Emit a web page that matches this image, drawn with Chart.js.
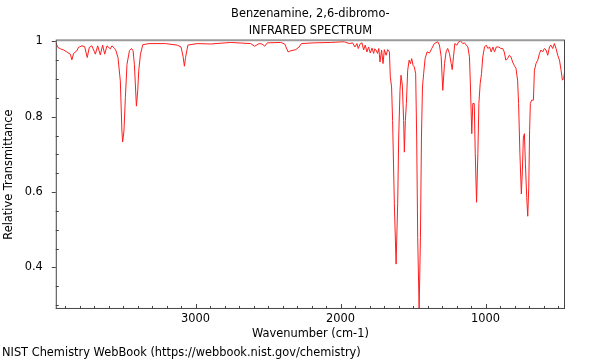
<!DOCTYPE html>
<html>
<head>
<meta charset="utf-8">
<script src="https://cdn.jsdelivr.net/npm/chart.js@4.4.1/dist/chart.umd.min.js"></script>
<style>
  html, body { margin: 0; padding: 0; background: #fff; }
  #wrap { width: 600px; height: 360px; }
</style>
</head>
<body>
<div id="wrap"><canvas id="irChart" width="600" height="360"></canvas></div>
<script>
// Espectro (número de onda em cm-1, transmitância relativa)
const wavenumber = [
  3964, 3950, 3931, 3910, 3888, 3864, 3853, 3841, 3819, 3807, 3784, 3765, 3747, 3733, 3715, 3691,
  3675, 3657, 3641, 3627, 3611, 3588, 3577, 3558, 3549, 3535, 3519, 3508, 3503, 3494, 3484, 3473,
  3456, 3442, 3431, 3422, 3413, 3408, 3399, 3392, 3380, 3364, 3323, 3207, 3127, 3100, 3086, 3077,
  3069, 3053, 2989, 2896, 2758, 2620, 2592, 2562, 2542, 2523, 2505, 2412, 2385, 2362, 2343, 2309,
  2286, 2270, 2182, 2067, 1975, 1940, 1917, 1901, 1887, 1878, 1864, 1852, 1841, 1830, 1818, 1807,
  1795, 1783, 1772, 1764, 1756, 1745, 1736, 1728, 1717, 1707, 1698, 1686, 1675, 1663, 1657, 1648,
  1641, 1629, 1617, 1606, 1599, 1590, 1583, 1574, 1565, 1560, 1553, 1546, 1537, 1527, 1518, 1509,
  1500, 1491, 1482, 1475, 1468, 1458, 1449, 1442, 1435, 1427, 1417, 1403, 1387, 1371, 1353, 1330,
  1318, 1306, 1295, 1283, 1272, 1261, 1249, 1237, 1230, 1221, 1212, 1198, 1185, 1171, 1157, 1145,
  1133, 1122, 1111, 1104, 1095, 1088, 1078, 1071, 1062, 1053, 1046, 1037, 1028, 1019, 1007, 995,
  984, 972, 961, 949, 938, 926, 908, 894, 882, 871, 860, 848, 836, 825, 813, 802,
  790, 779, 772, 763, 753, 746, 739, 732, 725, 716, 709, 702, 696, 691, 682, 670,
  663, 652, 640, 628, 618, 606, 594, 583, 571, 559, 549, 537, 525, 514, 502, 490,
  479, 470, 461, 452
];
const transmittance = [
  0.997, 0.984, 0.980, 0.977, 0.972, 0.966, 0.951, 0.968, 0.975, 0.984, 0.988, 0.986, 0.957, 0.984, 0.988, 0.966,
  0.988, 0.964, 0.990, 0.966, 0.988, 0.980, 0.988, 0.981, 0.975, 0.957, 0.895, 0.762, 0.733, 0.762, 0.851, 0.939,
  0.975, 0.981, 0.975, 0.939, 0.868, 0.828, 0.868, 0.922, 0.966, 0.991, 0.994, 0.994, 0.990, 0.985, 0.959, 0.934,
  0.957, 0.990, 0.994, 0.993, 0.997, 0.994, 0.987, 0.994, 0.993, 0.987, 0.996, 0.997, 0.993, 0.972, 0.975, 0.978,
  0.985, 0.994, 0.996, 0.997, 0.999, 0.994, 0.996, 0.985, 0.994, 0.981, 0.994, 0.996, 0.977, 0.990, 0.972, 0.985,
  0.969, 0.982, 0.968, 0.980, 0.977, 0.968, 0.981, 0.945, 0.977, 0.941, 0.978, 0.963, 0.978, 0.972, 0.906, 0.879,
  0.790, 0.569, 0.409, 0.569, 0.746, 0.870, 0.910, 0.884, 0.790, 0.706, 0.790, 0.835, 0.923, 0.950, 0.941, 0.954,
  0.936, 0.932, 0.914, 0.746, 0.480, 0.290, 0.480, 0.746, 0.879, 0.914, 0.954, 0.972, 0.969, 0.981, 0.994, 0.999,
  0.990, 0.959, 0.870, 0.941, 0.972, 0.981, 0.968, 0.941, 0.925, 0.959, 0.994, 0.990, 0.999, 1.001, 0.994, 0.996,
  0.990, 0.985, 0.959, 0.879, 0.755, 0.835, 0.835, 0.702, 0.573, 0.702, 0.835, 0.888, 0.914, 0.959, 0.985, 0.990,
  0.981, 0.985, 0.972, 0.985, 0.972, 0.985, 0.985, 0.981, 0.981, 0.972, 0.950, 0.954, 0.963, 0.959, 0.945, 0.936,
  0.928, 0.897, 0.835, 0.702, 0.595, 0.657, 0.746, 0.755, 0.675, 0.586, 0.536, 0.613, 0.764, 0.835, 0.844, 0.844,
  0.923, 0.941, 0.950, 0.968, 0.977, 0.972, 0.981, 0.977, 0.963, 0.985, 0.990, 0.981, 0.994, 0.981, 0.963, 0.950,
  0.923, 0.897, 0.901, 0.928
];

// Marcas dos eixos
const xTicks = [1000, 2000, 3000];
const yTicks = [0.4, 0.6, 0.8, 1];

const titleLines = ['Benzenamine, 2,6-dibromo-', 'INFRARED SPECTRUM'];
const footerText = 'NIST Chemistry WebBook (https://webbook.nist.gov/chemistry)';

const fontFamily = '"DejaVu Sans", Verdana, sans-serif';
const fontSize = 11.4;

// Moldura e tiquinhos desenhados a partir das escalas do Chart.js
const framePlugin = {
    id: 'frame',
    afterDatasetsDraw(chart) {
        const { ctx, chartArea: a, scales } = chart;
        const x = scales.x, y = scales.y;
        const seg = (x1, y1, x2, y2) => {
            ctx.beginPath();
            ctx.moveTo(x1, y1);
            ctx.lineTo(x2, y2);
            ctx.stroke();
        };
        ctx.save();
        ctx.strokeStyle = '#9a9a9a';
        ctx.lineWidth = 2;
        seg(a.left, a.top, a.right, a.top);
        ctx.strokeStyle = '#444';
        ctx.lineWidth = 1;
        seg(a.left + 0.5, a.top, a.left + 0.5, a.bottom);
        seg(a.right - 0.5, a.top, a.right - 0.5, a.bottom);
        seg(a.left, a.bottom - 0.5, a.right, a.bottom - 0.5);

        // eixo x: menores a cada 100, maiores nos rótulos
        for (let w = 500; w <= 3900; w += 100) {
            const px = Math.round(x.getPixelForValue(w)) + 0.5;
            const len = xTicks.includes(w) ? 5 : 3;
            seg(px, a.bottom, px, a.bottom - len);
        }
        // eixo y: menores para dentro, maiores para fora
        for (let k = 6; k <= 20; k++) {
            const v = Math.round(k * 5) / 100;
            const py = Math.round(y.getPixelForValue(v)) + 0.5;
            if (yTicks.includes(v)) {
                seg(a.left - 4, py, a.left, py);
            } else {
                seg(a.left, py, a.left + 3, py);
            }
        }
        ctx.restore();
    }
};

function main() {
    const points = wavenumber.map((w, i) => ({ x: w, y: transmittance[i] }));
    const ctx = document.getElementById('irChart').getContext('2d');

    new Chart(ctx, {
        type: 'line',
        data: {
            datasets: [{
                data: points,
                borderColor: 'rgb(255, 30, 30)',
                borderWidth: 1,
                pointRadius: 0,
                tension: 0,
                fill: false
            }]
        },
        options: {
            responsive: false,
            animation: false,
            events: [],
            layout: { padding: { left: 2, right: 35, top: 1, bottom: 0 } },
            plugins: {
                legend: { display: false },
                tooltip: { enabled: false },
                title: {
                    display: true,
                    text: titleLines,
                    color: '#000',
                    fullSize: false,
                    font: { family: fontFamily, size: fontSize, weight: 'normal', lineHeight: 1.5 },
                    padding: { top: 4, bottom: 1 }
                },
                subtitle: {
                    display: true,
                    text: footerText,
                    position: 'bottom',
                    align: 'start',
                    color: '#000',
                    font: { family: fontFamily, size: fontSize, weight: 'normal' },
                    padding: { top: 3, bottom: 0 }
                }
            },
            scales: {
                x: {
                    type: 'linear',
                    reverse: true,
                    min: 452,
                    max: 3964,
                    afterBuildTicks: s => { s.ticks = xTicks.map(v => ({ value: v })); },
                    grid: { display: false, drawTicks: false },
                    border: { display: false },
                    ticks: {
                        color: '#000',
                        padding: 3,
                        maxRotation: 0,
                        font: { family: fontFamily, size: fontSize },
                        callback: v => String(v)
                    },
                    title: {
                        display: true,
                        text: 'Wavenumber (cm-1)',
                        color: '#000',
                        font: { family: fontFamily, size: fontSize },
                        padding: { top: -1, bottom: 2 }
                    }
                },
                y: {
                    type: 'linear',
                    min: 0.29,
                    max: 1.003,
                    afterBuildTicks: s => { s.ticks = yTicks.map(v => ({ value: v })); },
                    grid: { display: false },
                    border: { display: false },
                    ticks: {
                        color: '#000',
                        padding: 5,
                        font: { family: fontFamily, size: fontSize },
                        callback: v => String(v)
                    },
                    title: {
                        display: true,
                        text: 'Relative Transmittance',
                        color: '#000',
                        font: { family: fontFamily, size: fontSize },
                        padding: { top: 0, bottom: 4 }
                    }
                }
            }
        },
        plugins: [framePlugin]
    });
}

document.addEventListener('DOMContentLoaded', main);
</script>
</body>
</html>
